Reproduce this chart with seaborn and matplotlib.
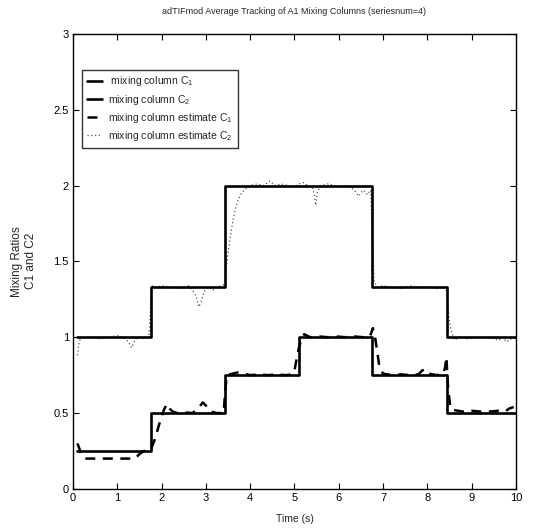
import matplotlib
matplotlib.use("Agg")
import matplotlib.pyplot as plt
import seaborn as sns
import pandas as pd

# Step (true) mixing columns
step_t = [0.10, 1.75, 3.43, 5.10, 6.75, 8.44, 10.0]
c1_true = [0.25, 0.50, 0.75, 1.00, 0.75, 0.50, 0.50]
c2_true = [1.00, 1.333, 2.00, 2.00, 1.333, 1.00, 1.00]

# Estimates
t1 = [0.10, 0.15, 0.22, 0.30, 0.50, 0.80, 1.10, 1.40, 1.50, 1.60,
      1.70, 1.76, 1.85, 1.95, 2.05, 2.12, 2.18, 2.25, 2.35, 2.50,
      2.70, 2.85, 2.93, 3.00, 3.10, 3.25, 3.40, 3.43, 3.47, 3.60,
      3.75, 3.85, 4.00, 4.20, 4.40, 4.60, 4.80, 4.95, 5.00, 5.05,
      5.10, 5.15, 5.22, 5.35, 5.55, 5.75, 5.95, 6.15, 6.35, 6.55,
      6.70, 6.77, 6.82, 6.87, 6.92, 7.00, 7.20, 7.40, 7.60, 7.80,
      7.88, 7.95, 8.05, 8.20, 8.35, 8.40, 8.43, 8.46, 8.52, 8.60,
      8.80, 9.00, 9.20, 9.40, 9.60, 9.75, 9.85, 9.95]
c1_est = [0.30, 0.26, 0.21, 0.20, 0.20, 0.20, 0.20, 0.20, 0.23, 0.25,
          0.25, 0.26, 0.33, 0.43, 0.52, 0.56, 0.53, 0.51, 0.50, 0.505,
          0.50, 0.54, 0.57, 0.55, 0.51, 0.50, 0.50, 0.62, 0.75, 0.76,
          0.77, 0.76, 0.75, 0.755, 0.75, 0.755, 0.75, 0.755, 0.78, 0.86,
          0.93, 0.98, 1.02, 1.00, 1.005, 1.00, 1.005, 1.00, 1.005, 1.00,
          1.00, 1.06, 1.00, 0.90, 0.80, 0.76, 0.75, 0.755, 0.75, 0.755,
          0.78, 0.79, 0.76, 0.75, 0.755, 0.80, 0.87, 0.70, 0.53, 0.52,
          0.51, 0.515, 0.51, 0.51, 0.515, 0.51, 0.53, 0.54]

t2 = [0.10, 0.13, 0.17, 0.22, 0.30, 0.45, 0.60, 0.80, 1.00, 1.15,
      1.25, 1.32, 1.38, 1.45, 1.55, 1.65, 1.72, 1.75, 1.77, 1.80,
      1.90, 2.00, 2.20, 2.40, 2.60, 2.70, 2.78, 2.84, 2.90, 2.96,
      3.05, 3.15, 3.25, 3.35, 3.43, 3.46, 3.50, 3.55, 3.60, 3.66,
      3.72, 3.80, 3.90, 4.00, 4.15, 4.30, 4.45, 4.55, 4.70, 4.85,
      5.00, 5.10, 5.20, 5.30, 5.40, 5.45, 5.48, 5.52, 5.60, 5.75,
      5.90, 6.05, 6.20, 6.35, 6.45, 6.55, 6.65, 6.72, 6.76, 6.80,
      6.90, 7.00, 7.20, 7.40, 7.60, 7.80, 8.00, 8.20, 8.35, 8.44,
      8.47, 8.50, 8.55, 8.62, 8.70, 8.90, 9.10, 9.30, 9.50, 9.62,
      9.70, 9.78, 9.90, 10.0]
c2_est = [0.88, 0.95, 1.00, 0.99, 1.00, 1.00, 0.99, 1.00, 1.01, 1.00,
          0.97, 0.93, 0.97, 1.00, 0.99, 1.00, 1.02, 1.20, 1.32, 1.34,
          1.33, 1.34, 1.33, 1.32, 1.34, 1.31, 1.27, 1.20, 1.24, 1.30,
          1.33, 1.31, 1.33, 1.34, 1.35, 1.46, 1.55, 1.66, 1.75, 1.84,
          1.90, 1.95, 1.98, 2.00, 2.01, 2.00, 2.03, 2.00, 2.01, 2.00,
          1.99, 2.01, 2.02, 2.00, 1.99, 1.94, 1.87, 1.96, 2.00, 2.01,
          2.00, 1.99, 2.00, 1.97, 1.93, 1.97, 1.94, 1.97, 1.62, 1.36,
          1.33, 1.34, 1.33, 1.32, 1.34, 1.33, 1.33, 1.32, 1.33, 1.30,
          1.20, 1.10, 1.03, 0.98, 1.00, 0.99, 1.00, 1.00, 0.99, 0.98,
          1.00, 0.97, 0.99, 1.00]

labels = [" mixing column C$_1$", "mixing column C$_2$",
          "mixing column estimate C$_1$", "mixing column estimate C$_2$"]
title = "adTIFmod Average Tracking of A1 Mixing Columns (seriesnum=4)"
xticks = [0, 1, 2, 3, 4, 5, 6, 7, 8, 9, 10]
yticks = [0, 0.5, 1, 1.5, 2, 2.5, 3]
ytick_labels = ["0", "0.5", "1", "1.5", "2", "2.5", "3"]

sns.set_style("ticks")
plt.rcParams['font.family'] = ['Liberation Sans', 'DejaVu Sans']
plt.rcParams['mathtext.fontset'] = 'custom'
plt.rcParams['mathtext.rm'] = 'Liberation Sans'
plt.rcParams['mathtext.it'] = 'Liberation Sans'

fig = plt.figure(figsize=(5.33, 5.28), dpi=100)
ax = fig.add_axes([0.137, 0.074, 0.831, 0.862])

df_true = pd.DataFrame({"t": step_t, "c1": c1_true, "c2": c2_true})
df1 = pd.DataFrame({"t": t1, "v": c1_est})
df2 = pd.DataFrame({"t": t2, "v": c2_est})

sns.lineplot(data=df2, x="t", y="v", ax=ax, color="#555555", lw=0.9,
             linestyle=(0, (1, 2)), label=labels[3])
sns.lineplot(data=df1, x="t", y="v", ax=ax, color="black", lw=1.8,
             linestyle=(0, (4, 3)), label=labels[2])
sns.lineplot(data=df_true, x="t", y="c1", ax=ax, color="black", lw=1.9,
             drawstyle="steps-post", label=labels[0])
sns.lineplot(data=df_true, x="t", y="c2", ax=ax, color="black", lw=1.9,
             drawstyle="steps-post", label=labels[1])

handles, labs = ax.get_legend_handles_labels()
order = [labs.index(l) for l in labels]
leg = ax.legend([handles[i] for i in order], [labs[i] for i in order],
                loc="upper left", bbox_to_anchor=(0.02, 0.921),
                fontsize=7.5, frameon=True, fancybox=False, handlelength=1.5,
                handletextpad=0.6, borderpad=0.45, labelspacing=0.4,
                borderaxespad=0)
leg.get_frame().set_edgecolor("black")
leg.get_frame().set_linewidth(1.0)

ax.set_xlim(0, 10)
ax.set_ylim(0, 3)
ax.set_xticks(xticks)
ax.set_yticks(yticks)
ax.set_yticklabels(ytick_labels)
ax.tick_params(direction="in", top=True, right=True, length=4, width=0.8,
               labelsize=8, pad=3, colors="black")
for s in ax.spines.values():
    s.set_visible(True)
    s.set_linewidth(1.0)
    s.set_color("black")

ax.set_xlabel("Time (s)", fontsize=7.5, labelpad=8)
ax.set_ylabel("Mixing Ratios\nC1 and C2", fontsize=8.5, labelpad=12)
ax.set_title(title, fontsize=6.5, pad=14)

fig.savefig("out.png", dpi=100)
